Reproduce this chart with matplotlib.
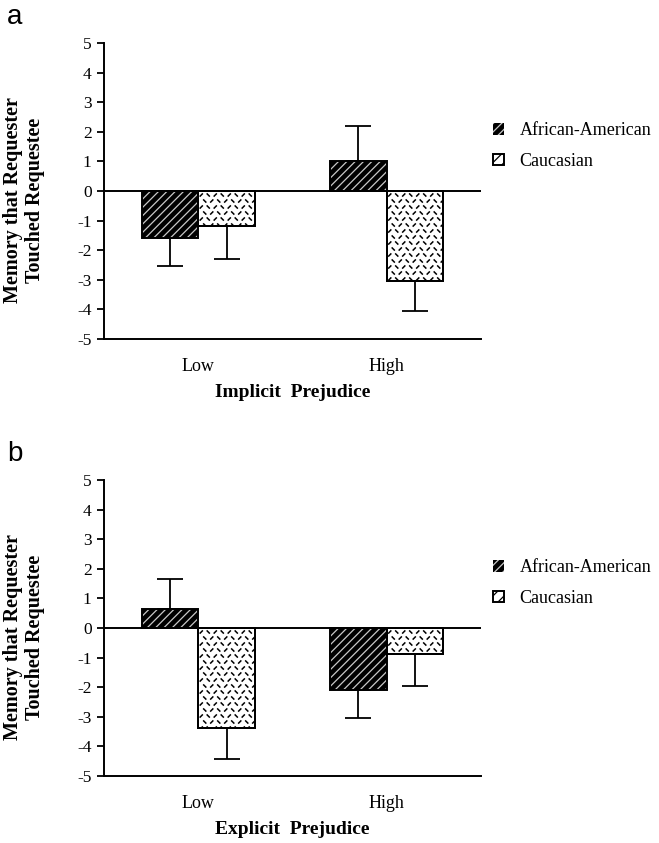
import numpy as np
import matplotlib
matplotlib.use("Agg")
import matplotlib.pyplot as plt
from matplotlib.patches import Patch
from matplotlib.collections import LineCollection
from matplotlib.transforms import IdentityTransform

plt.rcParams['font.family'] = 'Liberation Serif'
plt.rcParams['hatch.linewidth'] = 0.9

# data
groups = ['Low', 'High']
series = ['African-American', 'Caucasian']

aa_implicit = [-1.6, 1.0]
aa_implicit_err = [0.92, 1.2]
cau_implicit = [-1.17, -3.04]
cau_implicit_err = [1.12, 1.0]

aa_explicit = [0.63, -2.08]
aa_explicit_err = [1.03, 0.96]
cau_explicit = [-3.38, -0.89]
cau_explicit_err = [1.03, 1.08]

yticks = [5, 4, 3, 2, 1, 0, -1, -2, -3, -4, -5]

W, H = 659, 843
fig = plt.figure(figsize=(W / 100, H / 100), dpi=100)


def dash_texture(ax, rect):
    # small alternating dashes clipped to the bar, like the original print
    x0, y0, w, h = rect.get_x(), rect.get_y(), rect.get_width(), rect.get_height()
    (px0, py0), (px1, py1) = ax.transData.transform([(x0, y0), (x0 + w, y0 + h)])
    lo_x, hi_x = min(px0, px1), max(px0, px1)
    lo_y, hi_y = min(py0, py1), max(py0, py1)
    segs = []
    dx, dy, d = 7.0, 6.0, 1.6
    for j, yy in enumerate(np.arange(hi_y - 4, lo_y - dy, -dy)):
        for i, xx in enumerate(np.arange(lo_x + 3 + (j % 2) * 3.5, hi_x + dx, dx)):
            if (i + j) % 2 == 0:
                segs.append([(xx - d, yy - d), (xx + d, yy + d)])
            else:
                segs.append([(xx - d, yy + d), (xx + d, yy - d)])
    lc = LineCollection(segs, colors='black', linewidths=1.1,
                        transform=IdentityTransform(), zorder=2.5)
    ax.add_collection(lc, autolim=False)
    # clip after adding, otherwise add_collection puts the axes patch back
    lc.set_clip_path(rect)


def panel(top_px, aa, aa_err, cau, cau_err, xlabel, letter):
    bottom = 1 - (top_px + 296) / H
    ax = fig.add_axes([104 / W, bottom, 377 / W, 296 / H])
    x = np.arange(len(groups)) + 0.5
    bw = 0.3

    aa = np.array(aa)
    cau = np.array(cau)
    for vals, errs, off in [(aa, aa_err, -bw / 2), (cau, cau_err, bw / 2)]:
        errs = np.array(errs)
        lower = np.where(vals < 0, errs, 0)
        upper = np.where(vals >= 0, errs, 0)
        ax.errorbar(x + off, vals, yerr=[lower, upper], fmt='none',
                    ecolor='black', elinewidth=1.3, capsize=9.5,
                    capthick=1.3, zorder=1)

    ax.bar(x - bw / 2, aa, bw, color='black', edgecolor='#c8c8c8',
           hatch='////', linewidth=0, zorder=2)
    ax.bar(x - bw / 2, aa, bw, fill=False, edgecolor='black',
           linewidth=1.4, zorder=3)
    cbars = ax.bar(x + bw / 2, cau, bw, color='white', edgecolor='black',
                   linewidth=1.4, zorder=2)
    ax.set_xlim(0, 2)
    ax.set_ylim(-5, 5)
    for r in cbars:
        dash_texture(ax, r)
        ax.add_patch(plt.Rectangle((r.get_x(), r.get_y()), r.get_width(),
                                   r.get_height(), fill=False,
                                   edgecolor='black', linewidth=1.4, zorder=3))

    ax.axhline(0, color='black', linewidth=1.4, zorder=2.8)
    ax.set_yticks(yticks)
    ax.set_yticklabels([str(t) for t in yticks], fontsize=12.5)
    ax.set_xticks(x)
    ax.set_xticklabels(groups, fontsize=13)
    ax.tick_params(axis='x', length=0, pad=14)
    ax.tick_params(axis='y', length=5, width=1.3, pad=4)
    for s in ['top', 'right']:
        ax.spines[s].set_visible(False)
    for s in ['left', 'bottom']:
        ax.spines[s].set_linewidth(1.4)
    ax.set_xlabel(xlabel, fontsize=14, fontweight='bold', labelpad=6)

    fig.text(24 / W, 1 - (top_px + 157) / H, 'Memory that Requester\nTouched Requestee',
             rotation=90, ha='center', va='center', fontsize=14.5,
             fontweight='bold', linespacing=1.08)
    fig.text(7 / W, 1 - (top_px - 26) / H, letter, family='Liberation Sans',
             fontsize=20, ha='left', va='center')

    handles = [Patch(facecolor='black', edgecolor='#c8c8c8', hatch='////', linewidth=0),
               Patch(facecolor='white', edgecolor='black', hatch='///', linewidth=1.4)]
    fig.legend(handles, series, loc='upper left', frameon=False,
               bbox_to_anchor=(486 / W, 1 - (top_px + 72) / H),
               fontsize=13, handlelength=0.6, handleheight=0.6,
               handletextpad=0.85, labelspacing=0.75, borderaxespad=0)
    return ax


panel(43, aa_implicit, aa_implicit_err, cau_implicit, cau_implicit_err,
      'Implicit  Prejudice', 'a')
panel(480, aa_explicit, aa_explicit_err, cau_explicit, cau_explicit_err,
      'Explicit  Prejudice', 'b')

fig.savefig('out.png', dpi=100)
